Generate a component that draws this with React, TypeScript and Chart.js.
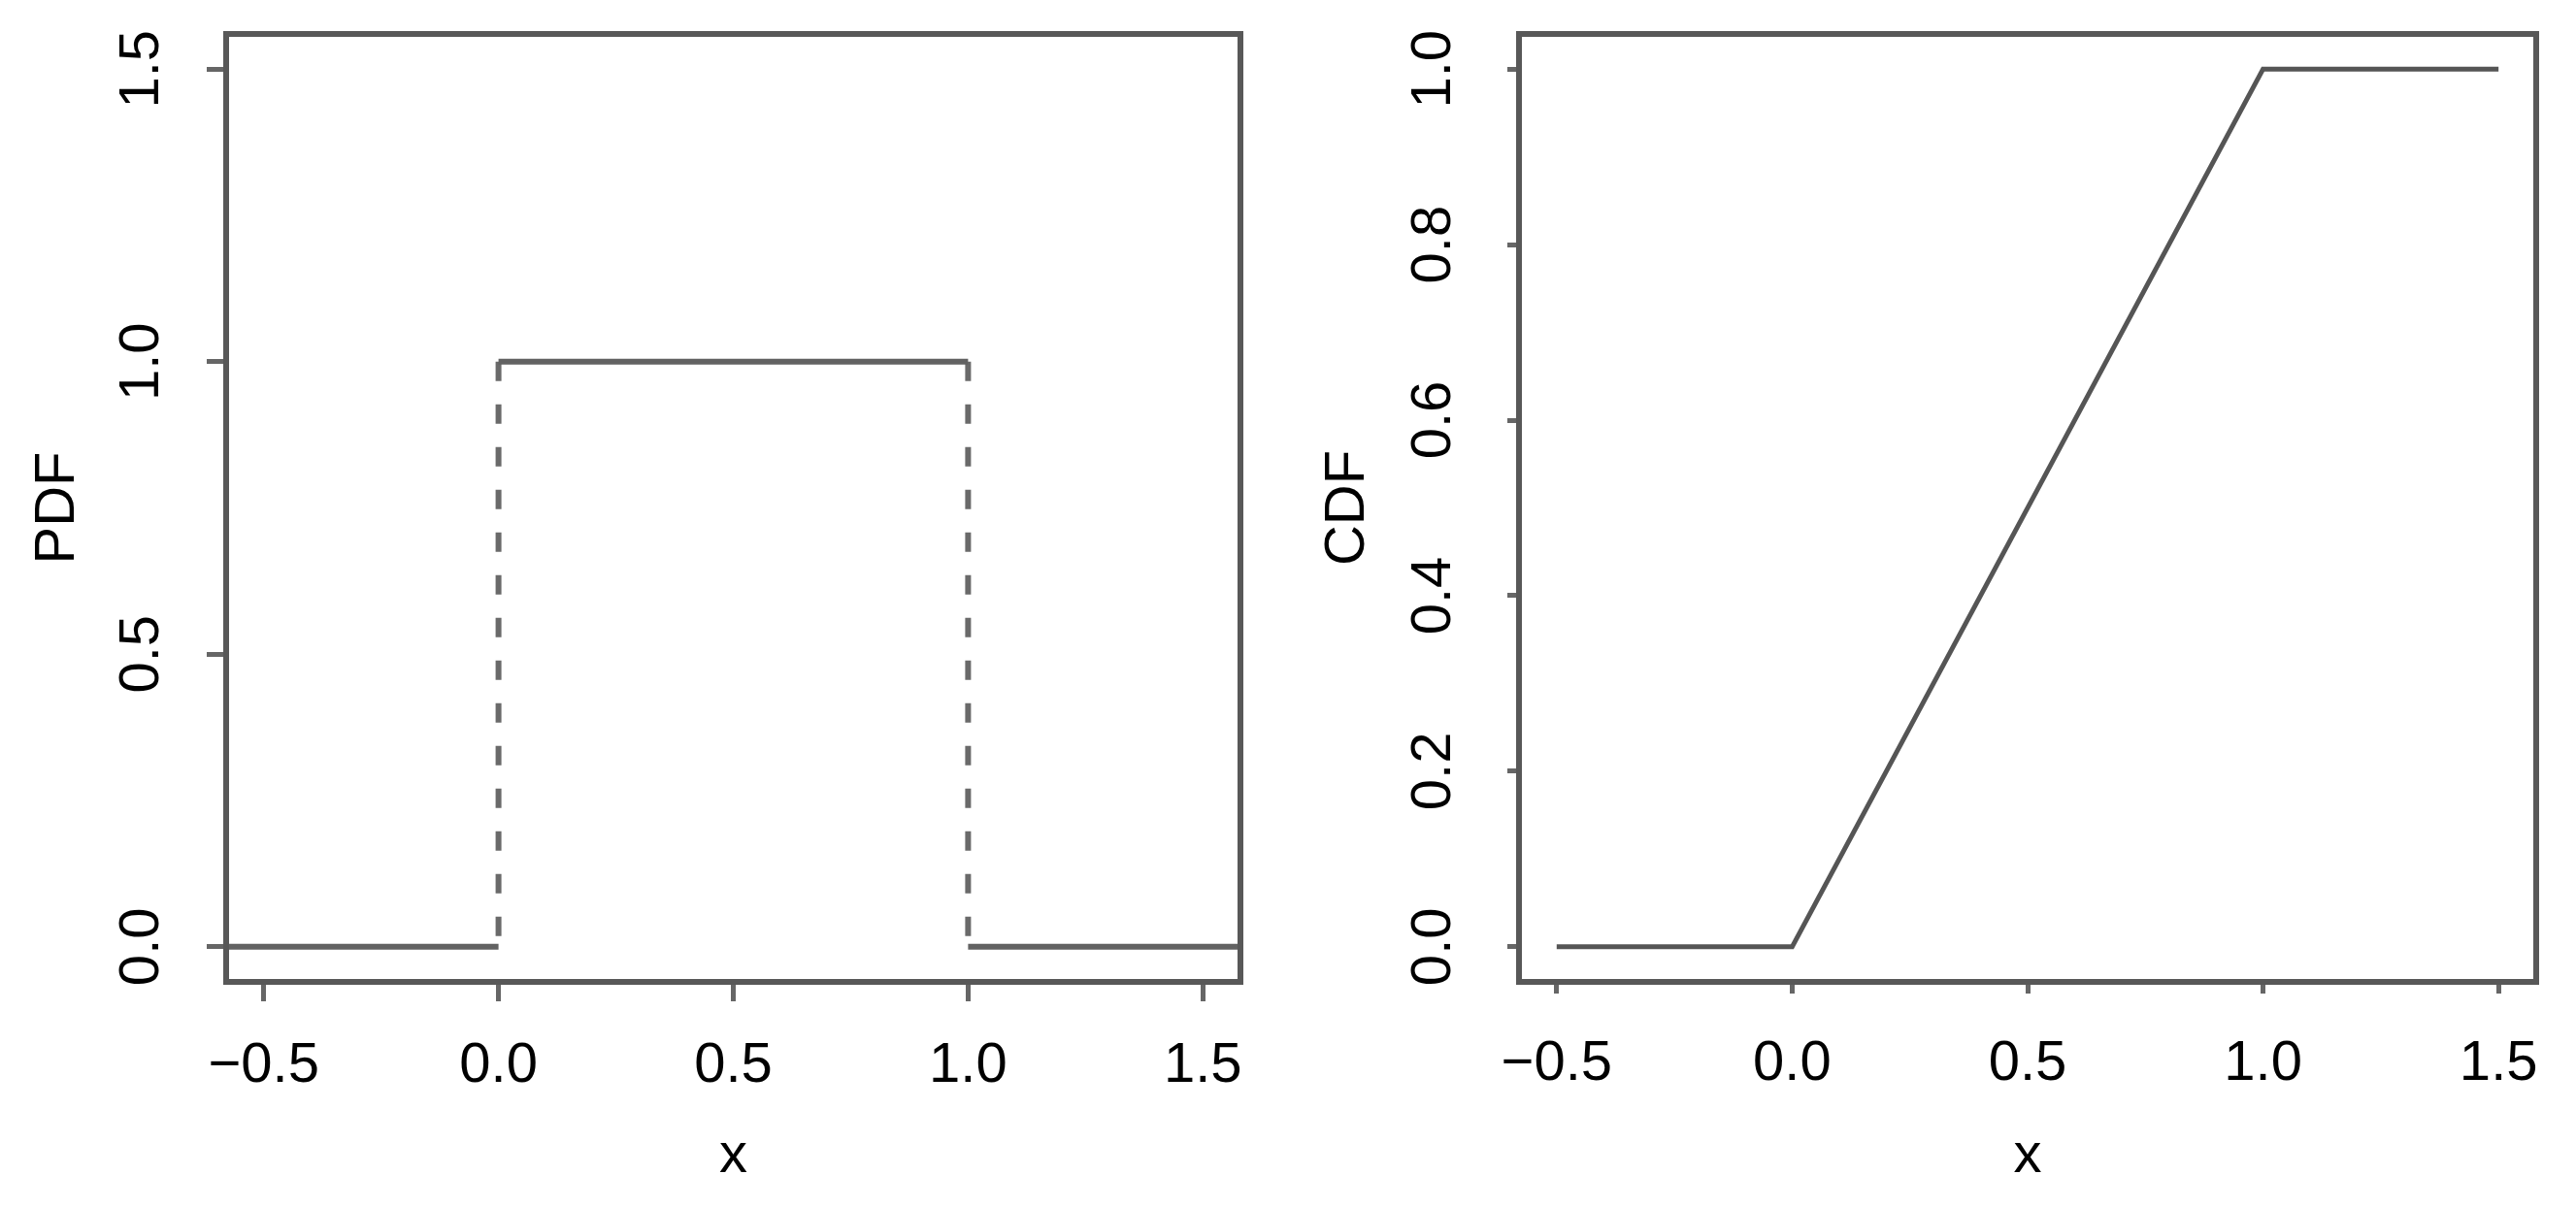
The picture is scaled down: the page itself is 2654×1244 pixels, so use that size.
import React, { useEffect, useRef } from "react";
import { Chart, registerables } from "chart.js";

Chart.register(...registerables);

// ---- data (uniform(0,1) distribution) ----
const xTickValues = [-0.5, 0, 0.5, 1, 1.5];
const pdfTickValues = [0, 0.5, 1, 1.5];
const cdfTickValues = [0, 0.2, 0.4, 0.6, 0.8, 1];

const xRange = [-0.58, 1.58];
const pdfRange = [-0.06, 1.56];
const cdfRange = [-0.04, 1.04];

const pdfLeftX = [-1, 0];
const pdfLeftY = [0, 0];
const pdfTopX = [0, 1];
const pdfTopY = [1, 1];
const pdfRightX = [1, 2];
const pdfRightY = [0, 0];
const pdfJump0X = [0, 0];
const pdfJump0Y = [1, 0];
const pdfJump1X = [1, 1];
const pdfJump1Y = [1, 0];

const cdfX = [-0.5, 0, 1, 1.5];
const cdfY = [0, 0, 1, 1];

const W = 1327;
const H = 1244;
const FONT_FAMILY = "'Liberation Sans', Arial, Helvetica, sans-serif";
const FONT_SIZE = 58;

const pts = (xs: number[], ys: number[]) => xs.map((x, i) => ({ x, y: ys[i] }));
const fmt = (v: number) => (v < 0 ? "\u2212" : "") + Math.abs(v).toFixed(1);

const boxPlugin = {
  id: "box",
  afterDraw(chart: any) {
    const { ctx, chartArea } = chart;
    ctx.save();
    ctx.strokeStyle = "#585858";
    ctx.lineWidth = 6;
    ctx.strokeRect(chartArea.left, chartArea.top, chartArea.right - chartArea.left, chartArea.bottom - chartArea.top);
    ctx.restore();
  },
};

type Geo = {
  areaLeft: number;
  areaRight: number;
  top: number;
  bottom: number;
  tickLen: number;
  yPad: number;
  xPad: number;
  yTitlePad: number;
  xTitlePad: number;
};

function solid(data: any[], color = "#626262", width = 6) {
  return { data, borderColor: color, borderWidth: width, pointRadius: 0, fill: false, tension: 0, clip: 0 };
}
function dashed(data: any[]) {
  return { data, borderColor: "#6a6a6a", borderWidth: 6, borderDash: [20, 24], pointRadius: 0, fill: false, tension: 0, clip: 0 };
}

function makeConfig(datasets: any[], yTicks: number[], yRange: number[], yTitle: string, g: Geo): any {
  const font = { family: FONT_FAMILY, size: FONT_SIZE };
  return {
    type: "line",
    data: { datasets },
    plugins: [boxPlugin],
    options: {
      animation: false,
      responsive: false,
      devicePixelRatio: 1,
      layout: { padding: { left: 0, top: g.top, right: W - g.areaRight, bottom: 0 }, autoPadding: false },
      plugins: { legend: { display: false }, tooltip: { enabled: false } },
      scales: {
        x: {
          type: "linear",
          min: xRange[0],
          max: xRange[1],
          afterBuildTicks: (s: any) => {
            s.ticks = xTickValues.map((v) => ({ value: v }));
          },
          afterFit: (s: any) => {
            s.height = H - g.bottom;
            s.paddingLeft = 0;
            s.paddingRight = 0;
            s.paddingTop = 0;
            s.paddingBottom = 0;
          },
          grid: { drawOnChartArea: false, drawTicks: true, tickLength: g.tickLen, color: "#666", lineWidth: 5 },
          border: { display: false },
          ticks: { font, color: "#000", padding: g.xPad, maxRotation: 0, minRotation: 0, autoSkip: false, callback: (v: number) => fmt(v) },
          title: { display: true, text: "x", font, color: "#000", padding: { top: 0, bottom: g.xTitlePad } },
        },
        y: {
          type: "linear",
          min: yRange[0],
          max: yRange[1],
          afterBuildTicks: (s: any) => {
            s.ticks = yTicks.map((v) => ({ value: v }));
          },
          afterFit: (s: any) => {
            s.width = g.areaLeft;
            s.paddingLeft = 0;
            s.paddingRight = 0;
            s.paddingTop = 0;
            s.paddingBottom = 0;
          },
          grid: { drawOnChartArea: false, drawTicks: true, tickLength: g.tickLen, color: "#666", lineWidth: 5 },
          border: { display: false },
          ticks: {
            font,
            color: "#000",
            padding: g.yPad,
            minRotation: 90,
            maxRotation: 90,
            crossAlign: "center",
            autoSkip: false,
            callback: (v: number) => fmt(v),
          },
          title: { display: true, text: yTitle, font, color: "#000", padding: { top: g.yTitlePad, bottom: 0 } },
        },
      },
    },
  };
}

function Panel({ left, config }: { left: number; config: any }) {
  const ref = useRef<HTMLCanvasElement | null>(null);
  useEffect(() => {
    if (!ref.current) return;
    const chart = new Chart(ref.current, config);
    return () => chart.destroy();
  }, [config]);
  return (
    <canvas
      ref={ref}
      width={W}
      height={H}
      style={{ position: "absolute", left, top: 0, width: W, height: H }}
    />
  );
}

const pdfConfig = makeConfig(
  [
    solid(pts(pdfLeftX, pdfLeftY)),
    solid(pts(pdfTopX, pdfTopY)),
    solid(pts(pdfRightX, pdfRightY)),
    dashed(pts(pdfJump0X, pdfJump0Y)),
    dashed(pts(pdfJump1X, pdfJump1Y)),
  ],
  pdfTickValues,
  pdfRange,
  "PDF",
  { areaLeft: 233, areaRight: 1278, top: 35, bottom: 1012, tickLen: 20, yPad: 26, xPad: 32, yTitlePad: 25, xTitlePad: 17 }
);

const cdfConfig = makeConfig(
  [solid(pts(cdfX, cdfY), "#555", 5)],
  cdfTickValues,
  cdfRange,
  "CDF",
  { areaLeft: 238, areaRight: 1286, top: 35, bottom: 1012, tickLen: 12, yPad: 35, xPad: 38, yTitlePad: 27, xTitlePad: 17 }
);

export default function App() {
  return (
    <div style={{ position: "absolute", left: 0, top: 0, width: 2654, height: 1244, background: "#fff", overflow: "hidden" }}>
      <Panel left={0} config={pdfConfig} />
      <Panel left={W} config={cdfConfig} />
    </div>
  );
}
